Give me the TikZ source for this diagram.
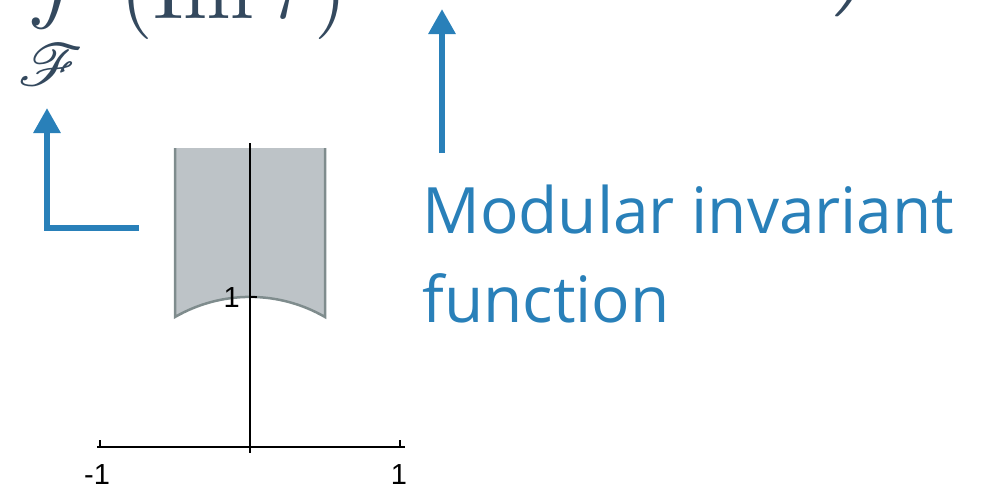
\documentclass[tikz,border=0pt]{standalone}
\usepackage{amsmath}
\usepackage{mathrsfs}
\usepackage{graphicx}
\usepackage{fontspec}
\usetikzlibrary{arrows.meta}
\newfontfamily\labelfont{Open Sans}
\newfontfamily\axisfont{Liberation Sans}
\definecolor{slate}{HTML}{34495E}
\definecolor{belize}{HTML}{2980B9}
\definecolor{cloud}{HTML}{BDC3C7}
\definecolor{asbestos}{HTML}{7F8C8D}
\newcommand{\bigmath}[1]{\scalebox{4.8}{$\displaystyle #1$}}

\begin{document}
\begin{tikzpicture}[x=0.02cm, y=-0.02cm]
    \tikzstyle{formula} = [inner sep=0pt, text=slate]
    \tikzstyle{pointer} = [belize, line width=0.12cm, -{Triangle[width=0.52cm, length=0.5cm]}]
    \tikzstyle{axis} = [black, line width=0.04cm]
    \tikzstyle{ticklabel} = [inner sep=0pt, font=\axisfont\fontsize{16.5}{20}\selectfont]

    \useasboundingbox (0,0) rectangle (988,488);
    \clip (0,0) rectangle (988,488);

    \node (intsign) [formula, anchor=base west] at (27,-43) {\bigmath{\int\limits_{\mathscr{F}}}};
    \node (imtau) [formula, anchor=base west] at (120,18) {\bigmath{(\mathrm{Im}\,\tau)}};
    \node (modfn) [formula, anchor=south east] at (883,17) {\bigmath{\Bigr)}};

    \fill [cloud] (175,148) -- (175,317) arc[start angle=240, end angle=300, radius=150] -- (325,148) -- cycle;
    \draw [asbestos, line width=0.05cm] (175,148) -- (175,317) arc[start angle=240, end angle=300, radius=150] -- (325,148);

    \draw [axis] (97,447) -- (405,447);
    \draw [axis] (250,143) -- (250,453);
    \draw [axis] (100,447) -- (100,440);
    \draw [axis] (400,447) -- (400,440);
    \draw [axis] (250,297) -- (257,297);
    \draw [axis] (250,447) -- (257,447);
    \node (yone) [ticklabel, anchor=base east] at (240,307) {1};
    \node (xminus) [ticklabel, anchor=base] at (97,484) {-1};
    \node (xplus) [ticklabel, anchor=base] at (399,484) {1};

    \node (modlabel) [anchor=base west, inner sep=0pt, align=left, text=belize, font=\labelfont\fontsize{36.4}{50.5}\selectfont] at (422,322) {Modular invariant\\function};

    \coordinate (domainstart) at (139,228);
    \coordinate (domaincorner) at (47,228);
    \coordinate (domaintip) at (47,108);
    \draw [pointer] (domainstart) -- (domaincorner) -- (domaintip);

    \coordinate (modfoot) at (442,153);
    \coordinate (modtip) at (442,9);
    \draw [pointer] (modfoot) -- (modtip);
\end{tikzpicture}
\end{document}
